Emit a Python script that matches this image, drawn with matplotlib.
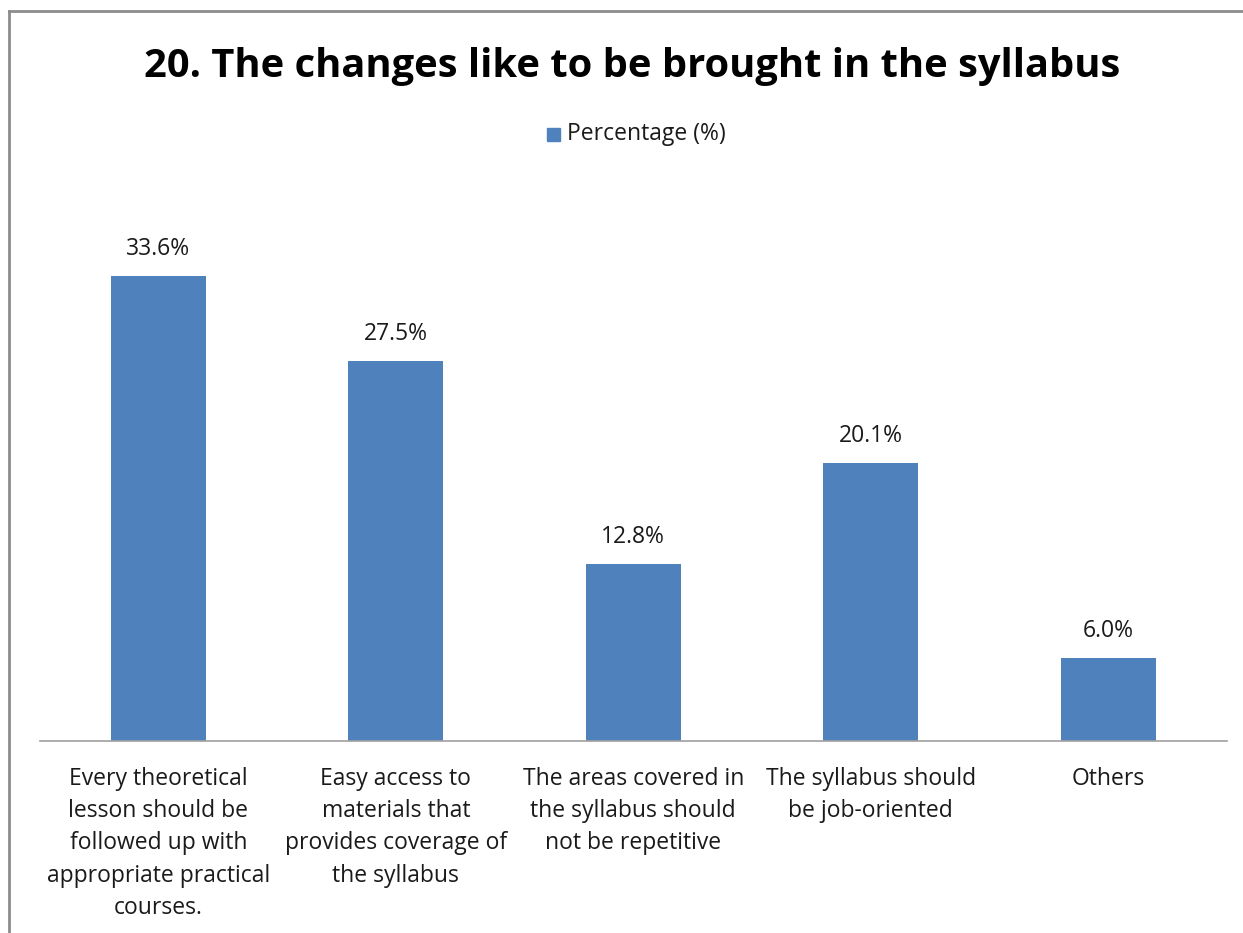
import numpy as np
import matplotlib.pyplot as plt
from matplotlib.lines import Line2D
from matplotlib.patches import Rectangle

categories = ["Every theoretical\nlesson should be\nfollowed up with\nappropriate practical\ncourses.",
              "Easy access to\nmaterials that\nprovides coverage of\nthe syllabus",
              "The areas covered in\nthe syllabus should\nnot be repetitive",
              "The syllabus should\nbe job-oriented",
              "Others"]
values = [33.6, 27.5, 12.8, 20.1, 6.0]
series_name = "Percentage (%)"
title = "20. The changes like to be brought in the syllabus"

W, H = 1243, 933
bar_color = "#4f81bd"
text_color = "#1a1a1a"

plt.rcParams['font.family'] = ['Open Sans', 'DejaVu Sans']

fig = plt.figure(figsize=(W / 100, H / 100), dpi=100)
ax = fig.add_axes([39.5 / W, (H - 741) / H, (1227 - 39.5) / W, (741 - 188) / H])

x = np.arange(len(values))
ax.bar(x, values, width=0.4, color=bar_color, zorder=2)
for xi, v in zip(x, values):
    ax.annotate("%.1f%%" % v, (xi, v), xytext=(0, 11), textcoords="offset points",
                ha="center", va="bottom", fontsize=16.5, color=text_color)

ax.set_xlim(-0.5, len(values) - 0.5)
ax.set_ylim(0, 40)
ax.set_yticks([])
ax.set_xticks(x)
ax.set_xticklabels(categories, fontsize=16.5, color=text_color, linespacing=1.46)
ax.tick_params(axis="x", length=0, pad=18.5)
for s in ["top", "right", "left"]:
    ax.spines[s].set_visible(False)
ax.spines["bottom"].set_color("#a0a0a0")
ax.spines["bottom"].set_linewidth(1.2)

# title and legend
fig.text(632 / W, 1 - 67 / H, title, ha="center", va="center", fontsize=28.7,
         fontweight="bold", color="black")
fig.patches.append(Rectangle((547 / W, 1 - 141 / H), 13 / W, 13 / H,
                             transform=fig.transFigure, color=bar_color))
fig.text(567 / W, 1 - 134 / H, series_name, ha="left", va="center", fontsize=16.5,
         color=text_color)

# outer frame
fig.add_artist(Line2D([9 / W, 9 / W], [0, 1 - 11 / H], color="#8c8c8c", lw=2))
fig.add_artist(Line2D([9 / W, 1], [1 - 11 / H, 1 - 11 / H], color="#8c8c8c", lw=2))

fig.savefig("out.png", dpi=100)
